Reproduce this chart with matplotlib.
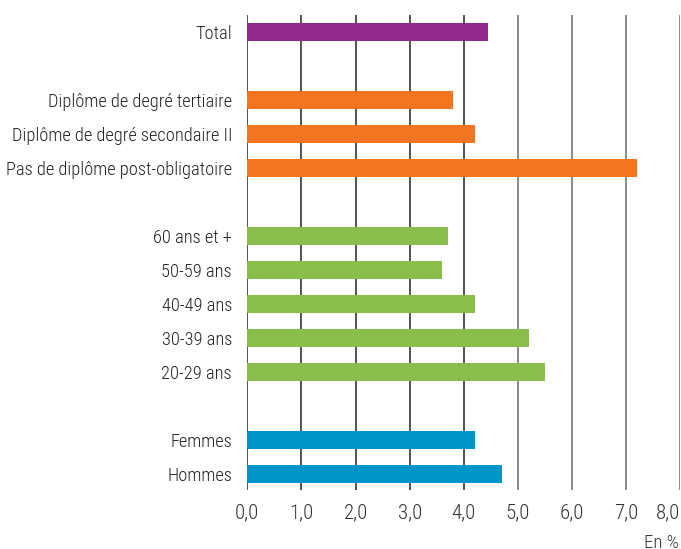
import matplotlib
matplotlib.use("Agg")
import matplotlib.pyplot as plt

plt.rcParams["font.family"] = ["Roboto Condensed", "DejaVu Sans"]
plt.rcParams["font.weight"] = "light"

# données (en %)
labels = ["Total",
          "Diplôme de degré tertiaire", "Diplôme de degré secondaire II",
          "Pas de diplôme post-obligatoire",
          "60 ans et +", "50-59 ans", "40-49 ans", "30-39 ans", "20-29 ans",
          "Femmes", "Hommes"]
values = [4.45,
          3.8, 4.2, 7.2,
          3.7, 3.6, 4.2, 5.2, 5.5,
          4.2, 4.7]
slots = [0, 2, 3, 4, 6, 7, 8, 9, 10, 12, 13]
groups = ["total", "edu", "edu", "edu", "age", "age", "age", "age", "age",
          "sex", "sex"]
xticks = [0, 1, 2, 3, 4, 5, 6, 7, 8]

colors = {"total": "#93298C", "edu": "#F47521", "age": "#8BBD4A", "sex": "#0095C8"}

fig = plt.figure(figsize=(6.81, 5.49), dpi=100)
ax = fig.add_axes([0.3632, 0.1075, 0.6358, 0.8652])

for x in xticks:
    ax.axvline(x, color="#444444" if x <= 4 else "#808080", lw=1.3, zorder=0)

ax.barh(slots, values, height=0.53, color=[colors[g] for g in groups], zorder=2)

ax.set_xlim(0, 8)
ax.set_ylim(13.47, -0.5)
ax.set_yticks(slots)
ax.set_yticklabels(labels, fontsize=13.2, color="#222222")
ax.set_xticks(xticks)
ax.set_xticklabels([("%.1f" % x).replace(".", ",") for x in xticks],
                   fontsize=15, color="#333333")
ax.get_xticklabels()[-1].set_horizontalalignment("right")
ax.tick_params(axis="y", length=0, pad=11)
ax.tick_params(axis="x", length=0, pad=10)
for s in ax.spines.values():
    s.set_visible(False)

fig.text(0.997, 1 - 543 / 549, "En %", ha="right", va="center",
         fontsize=13.5, color="#333333")

fig.savefig("out.png", dpi=100)
